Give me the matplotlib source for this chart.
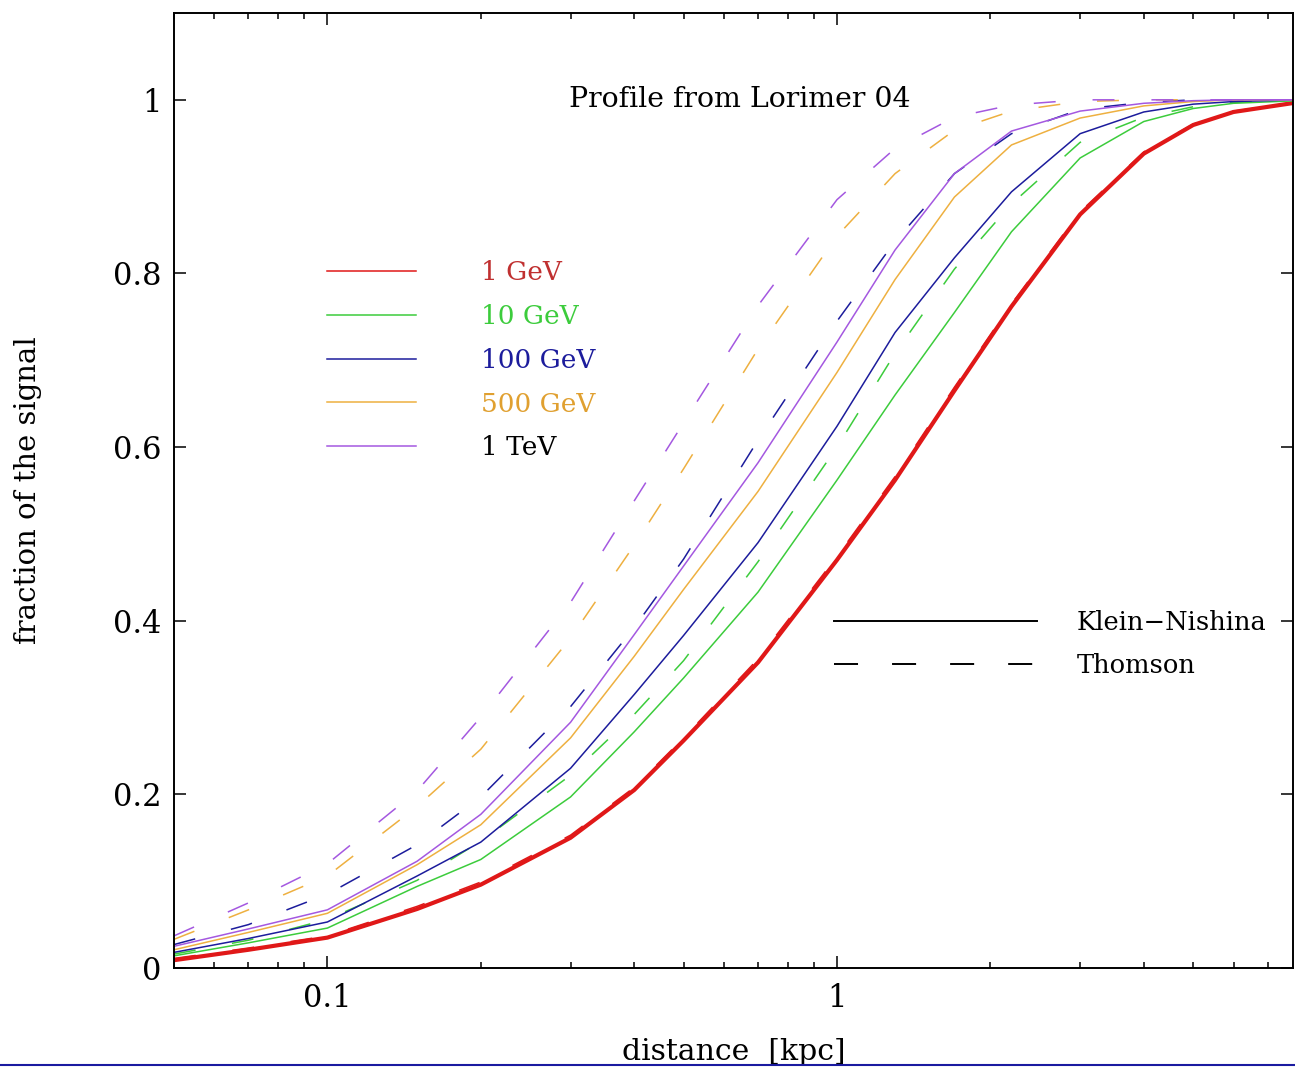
import matplotlib
matplotlib.use("Agg")
import matplotlib.pyplot as plt
from matplotlib.lines import Line2D

plt.rcParams["font.family"] = ["DejaVu Serif"]
plt.rcParams["lines.scale_dashes"] = False

# distance grid [kpc]
distance = [0.05, 0.07, 0.1, 0.15, 0.2, 0.3, 0.4, 0.5, 0.7, 1.0,
            1.3, 1.7, 2.2, 3.0, 4.0, 5.0, 6.0, 8.0]

# Klein-Nishina (solid)
kn_1gev = [0.009, 0.021, 0.035, 0.068, 0.096, 0.150, 0.205, 0.262, 0.352, 0.470,
           0.562, 0.665, 0.762, 0.868, 0.938, 0.971, 0.986, 0.997]
kn_10gev = [0.014, 0.029, 0.046, 0.094, 0.125, 0.197, 0.272, 0.334, 0.433, 0.562,
            0.660, 0.755, 0.848, 0.933, 0.975, 0.990, 0.996, 0.999]
kn_100gev = [0.018, 0.034, 0.053, 0.106, 0.145, 0.230, 0.315, 0.383, 0.490, 0.624,
             0.732, 0.818, 0.894, 0.961, 0.986, 0.995, 0.998, 1.0]
kn_500gev = [0.021, 0.041, 0.063, 0.119, 0.165, 0.265, 0.359, 0.436, 0.549, 0.686,
             0.793, 0.888, 0.948, 0.979, 0.993, 0.998, 1.0, 1.0]
kn_1tev = [0.025, 0.045, 0.067, 0.123, 0.177, 0.283, 0.384, 0.463, 0.582, 0.721,
           0.827, 0.915, 0.964, 0.987, 0.996, 0.999, 1.0, 1.0]

# Thomson (dashed)
th_1gev = [0.011, 0.023, 0.037, 0.071, 0.099, 0.153, 0.208, 0.265, 0.356, 0.474,
           0.566, 0.669, 0.765, 0.871, 0.940, 0.972, 0.987, 0.997]
th_10gev = [0.016, 0.032, 0.056, 0.101, 0.146, 0.222, 0.292, 0.354, 0.468, 0.600,
            0.708, 0.805, 0.880, 0.951, 0.980, 0.992, 0.997, 1.0]
th_100gev = [0.027, 0.050, 0.085, 0.142, 0.197, 0.301, 0.392, 0.471, 0.608, 0.745,
             0.837, 0.915, 0.961, 0.989, 0.997, 1.0, 1.0, 1.0]
th_500gev = [0.033, 0.067, 0.106, 0.186, 0.252, 0.380, 0.487, 0.575, 0.713, 0.843,
             0.915, 0.965, 0.987, 0.998, 1.0, 1.0, 1.0, 1.0]
th_1tev = [0.037, 0.075, 0.120, 0.204, 0.289, 0.421, 0.538, 0.628, 0.763, 0.885,
           0.944, 0.980, 0.994, 1.0, 1.0, 1.0, 1.0, 1.0]

energies = ["1 GeV", "10 GeV", "100 GeV", "500 GeV", "1 TeV"]
colores = ["#e01818", "#3ccc3c", "#1c1c9c", "#eeb040", "#a458e0"]
colores_texto = ["#c03030", "#3ccc3c", "#1c1c9c", "#e0a030", "black"]

kn = [kn_1gev, kn_10gev, kn_100gev, kn_500gev, kn_1tev]
th = [th_1gev, th_10gev, th_100gev, th_500gev, th_1tev]

traco = (0, (15.8, 26.6))

fig = plt.figure(figsize=(12.95, 10.67), dpi=100)
ax = fig.add_axes([174 / 1295, 99 / 1067, (1293 - 174) / 1295, 955 / 1067])

for i in range(len(energies)):
    lw = 3.0 if i == 0 else 1.1
    ax.plot(distance, th[i], color=colores[i], lw=1.1, linestyle=traco)
    ax.plot(distance, kn[i], color=colores[i], lw=lw)

ax.set_xscale("log")
ax.set_xlim(0.05, 7.85)
ax.set_ylim(0, 1.1)
ax.set_xticks([0.1, 1])
ax.set_xticklabels(["0.1", "1"])
ax.set_yticks([0, 0.2, 0.4, 0.6, 0.8, 1.0])
ax.set_yticklabels(["0", "0.2", "0.4", "0.6", "0.8", "1"])
ax.tick_params(which="both", direction="in", top=True, right=True,
               labelsize=22, width=1.1)
ax.tick_params(which="major", length=8.6)
ax.tick_params(axis="x", which="major", pad=11)
ax.tick_params(axis="y", which="major", pad=9)
ax.tick_params(which="minor", length=4.3)
ax.tick_params(axis="y", which="minor", left=False, right=False)
for s in ax.spines.values():
    s.set_linewidth(1.4)

ax.set_xlabel("distance  [kpc]", fontsize=21.5, labelpad=17)
ax.set_ylabel("fraction of the signal", fontsize=21, labelpad=51)

ax.text(0.506, 1.0, "Profile from Lorimer 04", transform=ax.get_yaxis_transform(),
        ha="center", va="center", fontsize=20.4)

handles1 = [Line2D([], [], color=c, lw=1.1) for c in colores]
leg1 = ax.legend(handles1, energies, loc="upper left", bbox_to_anchor=(0.1365, 0.741),
                 frameon=False, fontsize=19, handlelength=3.4, handletextpad=2.45,
                 labelspacing=0.71, borderpad=0, borderaxespad=0)
for t, c in zip(leg1.get_texts(), colores_texto):
    t.set_color(c)
ax.add_artist(leg1)

handles2 = [Line2D([], [], color="black", lw=1.4),
            Line2D([], [], color="black", lw=1.4, linestyle=(0, (17.3, 24.5)))]
ax.legend(handles2, ["Klein\u2212Nishina", "Thomson"], loc="upper left",
          bbox_to_anchor=(0.5897, 0.3745), frameon=False, fontsize=18.5,
          handlelength=7.9, handletextpad=1.55, labelspacing=0.68,
          borderpad=0, borderaxespad=0)

fig.add_artist(Line2D([0, 1], [0.0015, 0.0015], transform=fig.transFigure,
                      color="#1a1aa0", lw=1.5))

fig.savefig("out.png", dpi=100)
